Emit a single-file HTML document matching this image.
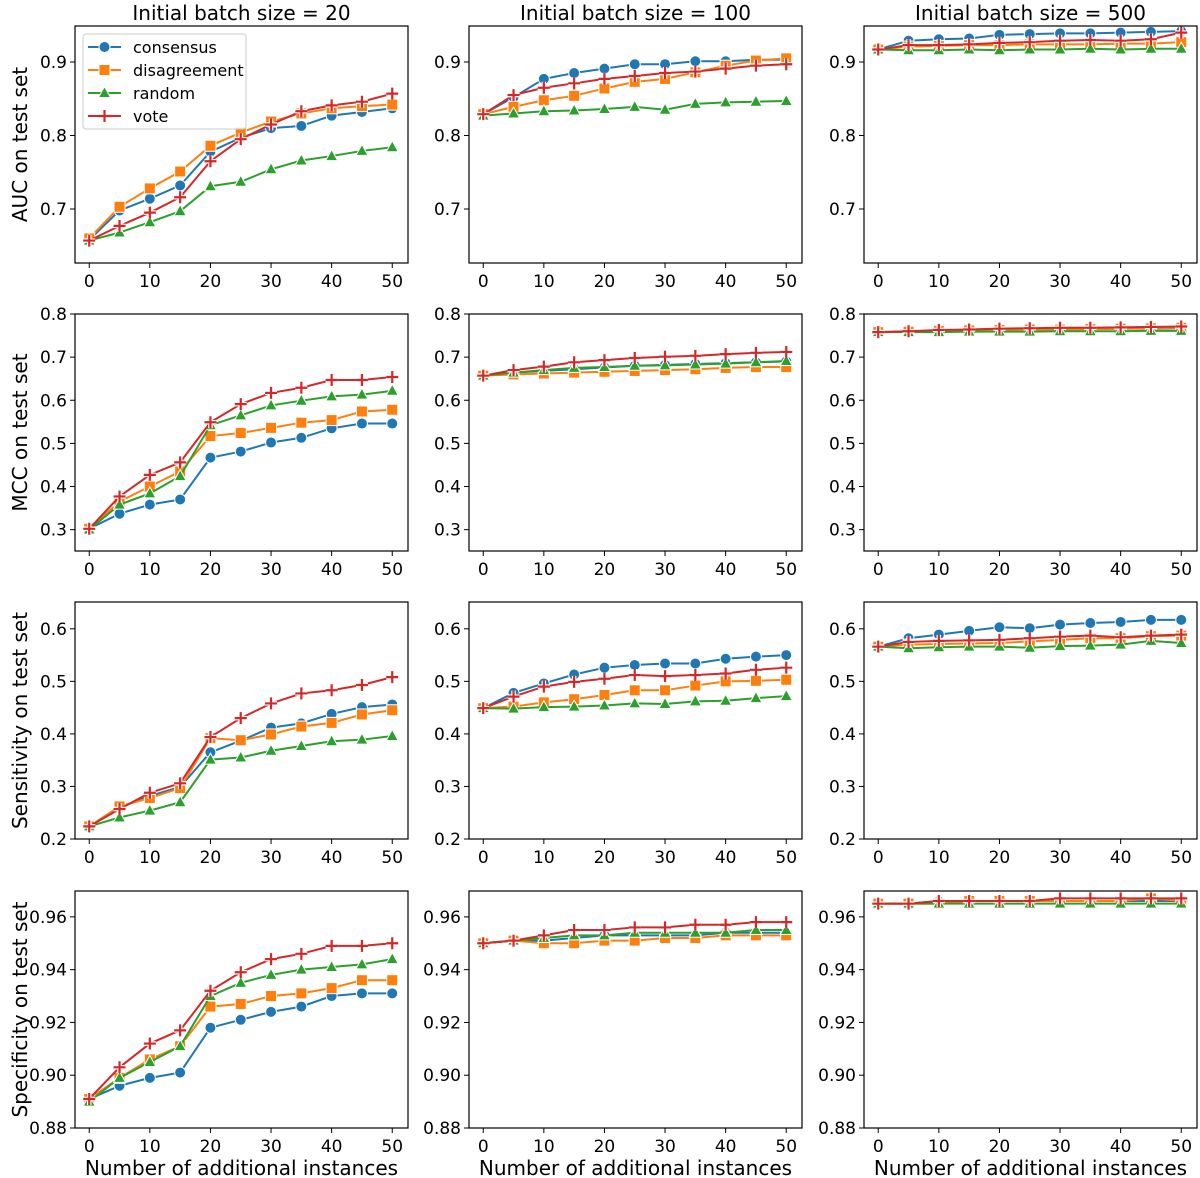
<!DOCTYPE html>
<html><head><meta charset="utf-8"><style>
html,body{margin:0;padding:0;background:#fff}
svg{display:block;font-family:"DejaVu Sans","Liberation Sans",sans-serif}
</style></head><body>
<svg id="fig" width="1200" height="1178" viewBox="0 0 1200 1178" xmlns="http://www.w3.org/2000/svg"></svg>
<script>
const xValues = [0,5,10,15,20,25,30,35,40,45,50];
const xTicks = [0,10,20,30,40,50];
const seriesNames = ["consensus","disagreement","random","vote"];
const colTitles = ["Initial batch size = 20","Initial batch size = 100","Initial batch size = 500"];
const rowLabels = ["AUC on test set","MCC on test set","Sensitivity on test set","Specificity on test set"];
const yTicksAUC = [0.7,0.8,0.9];
const yTicksMCC = [0.3,0.4,0.5,0.6,0.7,0.8];
const yTicksSens = [0.2,0.3,0.4,0.5,0.6];
const yTicksSpec = [0.88,0.90,0.92,0.94,0.96];
const yTickLabelsSpec = ["0.88","0.90","0.92","0.94","0.96"];

// AUC
const auc20_consensus=[0.658,0.698,0.714,0.732,0.778,0.797,0.810,0.813,0.827,0.832,0.837];
const auc20_disagreement=[0.660,0.703,0.728,0.751,0.786,0.804,0.819,0.830,0.837,0.840,0.842];
const auc20_random=[0.657,0.668,0.682,0.697,0.731,0.737,0.754,0.766,0.772,0.779,0.784];
const auc20_vote=[0.657,0.677,0.695,0.716,0.765,0.795,0.815,0.833,0.841,0.846,0.857];
const auc100_consensus=[0.829,0.852,0.877,0.885,0.891,0.897,0.897,0.901,0.901,0.903,0.903];
const auc100_disagreement=[0.829,0.839,0.848,0.854,0.864,0.873,0.877,0.886,0.895,0.902,0.905];
const auc100_random=[0.827,0.830,0.833,0.834,0.836,0.839,0.835,0.843,0.845,0.846,0.847];
const auc100_vote=[0.829,0.855,0.865,0.871,0.877,0.881,0.885,0.887,0.891,0.895,0.897];
const auc500_consensus=[0.917,0.929,0.931,0.932,0.937,0.938,0.939,0.939,0.940,0.941,0.942];
const auc500_disagreement=[0.917,0.921,0.922,0.923,0.923,0.924,0.924,0.924,0.925,0.925,0.927];
const auc500_random=[0.917,0.916,0.916,0.917,0.916,0.917,0.917,0.918,0.917,0.918,0.918];
const auc500_vote=[0.917,0.923,0.923,0.924,0.926,0.927,0.929,0.930,0.929,0.931,0.940];
// MCC
const mcc20_consensus=[0.302,0.337,0.358,0.370,0.467,0.481,0.502,0.513,0.535,0.546,0.546];
const mcc20_disagreement=[0.302,0.365,0.400,0.435,0.517,0.524,0.536,0.548,0.554,0.574,0.578];
const mcc20_random=[0.300,0.358,0.384,0.424,0.542,0.565,0.588,0.599,0.609,0.613,0.622];
const mcc20_vote=[0.302,0.377,0.427,0.456,0.549,0.591,0.617,0.629,0.647,0.647,0.654];
const mcc100_consensus=[0.657,0.664,0.668,0.672,0.676,0.680,0.682,0.684,0.686,0.688,0.690];
const mcc100_disagreement=[0.657,0.660,0.662,0.664,0.666,0.668,0.670,0.672,0.675,0.677,0.677];
const mcc100_random=[0.657,0.664,0.670,0.675,0.677,0.680,0.681,0.683,0.685,0.688,0.691];
const mcc100_vote=[0.657,0.670,0.678,0.688,0.693,0.698,0.701,0.703,0.707,0.710,0.712];
const mcc500_consensus=[0.758,0.759,0.761,0.762,0.763,0.764,0.765,0.765,0.766,0.766,0.767];
const mcc500_disagreement=[0.758,0.759,0.761,0.762,0.763,0.764,0.764,0.765,0.766,0.767,0.768];
const mcc500_random=[0.758,0.758,0.758,0.759,0.759,0.759,0.760,0.760,0.760,0.761,0.761];
const mcc500_vote=[0.758,0.760,0.763,0.764,0.766,0.767,0.768,0.768,0.769,0.770,0.771];
// Sensitivity
const sens20_consensus=[0.224,0.260,0.282,0.299,0.365,0.387,0.412,0.420,0.438,0.451,0.456];
const sens20_disagreement=[0.224,0.262,0.278,0.297,0.392,0.388,0.399,0.414,0.421,0.437,0.445];
const sens20_random=[0.224,0.241,0.254,0.270,0.351,0.355,0.368,0.377,0.386,0.389,0.396];
const sens20_vote=[0.224,0.257,0.288,0.306,0.394,0.430,0.458,0.477,0.483,0.493,0.508];
const sens100_consensus=[0.449,0.478,0.496,0.513,0.526,0.531,0.534,0.534,0.543,0.547,0.550];
const sens100_disagreement=[0.449,0.452,0.460,0.466,0.474,0.483,0.483,0.492,0.500,0.501,0.503];
const sens100_random=[0.449,0.448,0.451,0.452,0.454,0.458,0.457,0.462,0.463,0.468,0.472];
const sens100_vote=[0.449,0.471,0.490,0.499,0.505,0.512,0.510,0.512,0.515,0.522,0.526];
const sens500_consensus=[0.566,0.582,0.589,0.596,0.603,0.601,0.608,0.611,0.613,0.617,0.617];
const sens500_disagreement=[0.566,0.570,0.571,0.572,0.573,0.576,0.579,0.582,0.582,0.586,0.587];
const sens500_random=[0.566,0.563,0.565,0.566,0.566,0.564,0.567,0.568,0.570,0.577,0.573];
const sens500_vote=[0.566,0.575,0.577,0.578,0.579,0.582,0.585,0.587,0.584,0.587,0.589];
// Specificity
const spec20_consensus=[0.891,0.896,0.899,0.901,0.918,0.921,0.924,0.926,0.930,0.931,0.931];
const spec20_disagreement=[0.891,0.899,0.906,0.911,0.926,0.927,0.930,0.931,0.933,0.936,0.936];
const spec20_random=[0.890,0.899,0.905,0.911,0.930,0.935,0.938,0.940,0.941,0.942,0.944];
const spec20_vote=[0.891,0.903,0.912,0.917,0.932,0.939,0.944,0.946,0.949,0.949,0.950];
const spec100_consensus=[0.950,0.951,0.951,0.952,0.953,0.953,0.953,0.953,0.954,0.954,0.954];
const spec100_disagreement=[0.950,0.951,0.950,0.950,0.951,0.951,0.952,0.952,0.953,0.953,0.953];
const spec100_random=[0.950,0.951,0.952,0.953,0.953,0.954,0.954,0.954,0.954,0.955,0.955];
const spec100_vote=[0.950,0.951,0.953,0.955,0.955,0.956,0.956,0.957,0.957,0.958,0.958];
const spec500_consensus=[0.965,0.965,0.966,0.966,0.966,0.966,0.966,0.966,0.966,0.966,0.966];
const spec500_disagreement=[0.965,0.965,0.965,0.966,0.966,0.966,0.966,0.966,0.966,0.967,0.966];
const spec500_random=[0.965,0.965,0.965,0.965,0.965,0.965,0.965,0.965,0.965,0.965,0.965];
const spec500_vote=[0.965,0.965,0.966,0.966,0.966,0.966,0.967,0.967,0.967,0.967,0.967];

const NS="http://www.w3.org/2000/svg";
const svg=document.getElementById('fig');
function mk(tag,attrs,parent){const e=document.createElementNS(NS,tag);for(const k in attrs)e.setAttribute(k,attrs[k]);(parent||svg).appendChild(e);return e;}
const colors=["#1f77b4","#ff7f0e","#2ca02c","#d62728"];
const colLeft=[75,469,864], pw=333;
const rowTop=[26,314,602,891], ph=237;
const xMin=-2.35, xMax=52.6;
const ylims=[[0.6265,0.949],[0.2505,0.8],[0.2,0.651],[0.88,0.9698]];
const ticksByRow=[yTicksAUC,yTicksMCC,yTicksSens,yTicksSpec];
const data=[
 [[auc20_consensus,auc20_disagreement,auc20_random,auc20_vote],[auc100_consensus,auc100_disagreement,auc100_random,auc100_vote],[auc500_consensus,auc500_disagreement,auc500_random,auc500_vote]],
 [[mcc20_consensus,mcc20_disagreement,mcc20_random,mcc20_vote],[mcc100_consensus,mcc100_disagreement,mcc100_random,mcc100_vote],[mcc500_consensus,mcc500_disagreement,mcc500_random,mcc500_vote]],
 [[sens20_consensus,sens20_disagreement,sens20_random,sens20_vote],[sens100_consensus,sens100_disagreement,sens100_random,sens100_vote],[sens500_consensus,sens500_disagreement,sens500_random,sens500_vote]],
 [[spec20_consensus,spec20_disagreement,spec20_random,spec20_vote],[spec100_consensus,spec100_disagreement,spec100_random,spec100_vote],[spec500_consensus,spec500_disagreement,spec500_random,spec500_vote]]
];
function marker(g,si,cx,cy){
  const c=colors[si];let m;
  if(si===0){m=mk('circle',{cx:cx,cy:cy,r:5.5,fill:c,stroke:'#fff','stroke-width':1},g);}
  else if(si===1){m=mk('rect',{x:cx-5.5,y:cy-5.5,width:11,height:11,fill:c,stroke:'#fff','stroke-width':1},g);}
  else if(si===2){m=mk('polygon',{points:`${cx},${cy-6.5} ${cx+6},${cy+4.5} ${cx-6},${cy+4.5}`,fill:c,stroke:'#fff','stroke-width':1},g);}
  else{m=mk('path',{d:`M${cx-6},${cy}H${cx+6}M${cx},${cy-6}V${cy+6}`,stroke:'#fff','stroke-width':4.5},g);
       mk('path',{d:`M${cx-6},${cy}H${cx+6}M${cx},${cy-6}V${cy+6}`,stroke:c,'stroke-width':2.2},g);}
  return m;
}
for(let c=0;c<3;c++){
  const t=mk('text',{x:colLeft[c]+pw/2,y:20,'text-anchor':'middle','font-size':20,fill:'#000'});
  t.textContent=colTitles[c];
  
  
}
for(let r=0;r<4;r++){
  for(let c=0;c<3;c++){
    const L=colLeft[c],T=rowTop[r],[y0,y1]=ylims[r];
    const sx=v=>L+(v-xMin)/(xMax-xMin)*pw;
    const sy=v=>T+ph-(v-y0)/(y1-y0)*ph;
    const g=mk('g',{});
    
    
    xTicks.forEach(v=>{
      const x=sx(v);
      mk('line',{x1:x,x2:x,y1:T+ph,y2:T+ph+5,stroke:'#000','stroke-width':1},g);
      const tx=mk('text',{x:x,y:T+ph+24,'text-anchor':'middle','font-size':17,fill:'#000'},g);
      tx.textContent=v;
      
      
    });
    ticksByRow[r].forEach((v,i)=>{
      const y=sy(v);
      mk('line',{x1:L-5,x2:L,y1:y,y2:y,stroke:'#000','stroke-width':1},g);
      const ty=mk('text',{x:L-8,y:y+6,'text-anchor':'end','font-size':17,fill:'#000'},g);
      ty.textContent=r===3?yTickLabelsSpec[i]:v.toFixed(1);
      
      
    });
    const cg=mk('g',{},g);
    data[r][c].forEach((vals,si)=>{
      const pts=vals.map((v,i)=>sx(xValues[i])+','+sy(v)).join(' ');
      const pl=mk('polyline',{points:pts,fill:'none',stroke:colors[si],'stroke-width':2},cg);
      
      
      vals.forEach((v,i)=>{
        const m=marker(cg,si,sx(xValues[i]),sy(v));
        
        
      });
    });
    mk('rect',{x:L,y:T,width:pw,height:ph,fill:'none',stroke:'#000','stroke-width':1.2},g);
    if(c===0){
      const yl=mk('text',{x:0,y:0,transform:`translate(${27},${T+ph/2}) rotate(-90)`,'text-anchor':'middle','font-size':20,fill:'#000'});
      yl.textContent=rowLabels[r];
      
      
    }
    if(r===3){
      const xl=mk('text',{x:L+pw/2,y:1175,'text-anchor':'middle','font-size':20,fill:'#000'});
      xl.textContent='Number of additional instances';
      
      
    }
  }
}
// legend
const lg=mk('g',{});


mk('rect',{x:83,y:34,width:163,height:95,rx:3,fill:'#fff','fill-opacity':0.8,stroke:'#ccc','stroke-width':1},lg);
seriesNames.forEach((n,si)=>{
  const y=47+si*23;
  const e=mk('g',{},lg);
  
  
  mk('line',{x1:88,x2:121,y1:y,y2:y,stroke:colors[si],'stroke-width':2},e);
  marker(e,si,104.5,y);
  const t=mk('text',{x:133,y:y+6,'font-size':16,fill:'#000'},e);
  t.textContent=n;
});
</script>
</body></html>
